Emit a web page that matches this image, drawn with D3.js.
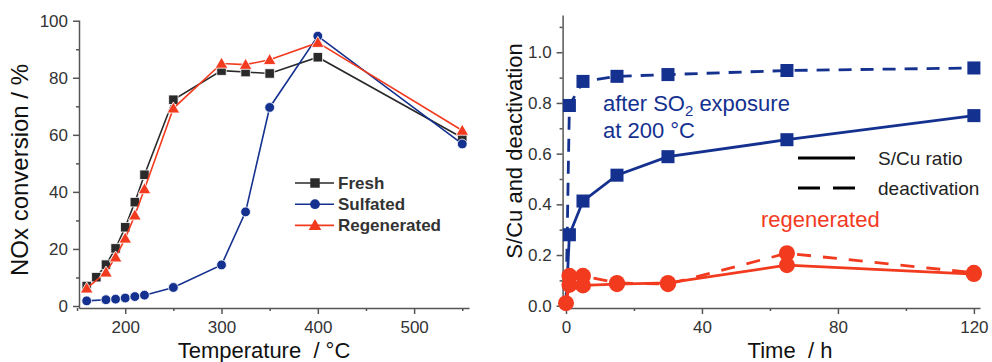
<!DOCTYPE html>
<html>
<head>
<meta charset="utf-8">
<script src="https://cdn.jsdelivr.net/npm/d3@7"></script>
<style>
  body { margin: 0; background: #fff; }
  svg { display: block; font-family: "Liberation Sans", Arial, sans-serif; }
</style>
</head>
<body>
<svg id="chart" width="992" height="362"></svg>
<script>
// Left panel: NOx conversion vs temperature
const tempsFresh = [160, 170, 180, 190, 200, 210, 220, 250, 300, 325, 350, 400, 550];
const fresh = [7.0, 10.1, 14.5, 20.2, 27.6, 36.4, 46.0, 72.3, 82.5, 82.0, 81.5, 87.2, 59.0];
const tempsSulf = [160, 180, 190, 200, 210, 220, 250, 300, 325, 350, 400, 550];
const sulfated = [1.8, 2.2, 2.4, 2.8, 3.3, 3.8, 6.5, 14.4, 33.0, 69.6, 94.6, 56.8];
const tempsRegen = [160, 180, 190, 200, 210, 220, 250, 300, 325, 350, 400, 550];
const regenerated = [6.2, 11.8, 17.1, 23.7, 31.8, 41.0, 69.3, 85.0, 84.6, 86.3, 92.3, 61.5];

// Right panel: S/Cu ratio and deactivation vs time
const times = [0, 1, 5, 15, 30, 65, 120];
const sulfSCu = [0, 0.28, 0.413, 0.515, 0.588, 0.655, 0.75];
const sulfDeact = [0, 0.79, 0.885, 0.905, 0.912, 0.928, 0.938];
const regenSCu = [0.01, 0.082, 0.08, 0.085, 0.09, 0.16, 0.125];
const regenDeact = [0.01, 0.118, 0.118, 0.09, 0.085, 0.207, 0.13];

const BLUE = "#14318f", RED = "#f23a1f", BLACK = "#2a2a2a", AXIS = "#555";

const svg = d3.select("#chart");

// helper for a pair of major/minor axes
function drawAxis(g, axisFn, scale, major, minor, fmt) {
  g.append("g").call(axisFn(scale).tickValues(minor).tickSize(3).tickFormat(""))
    .call(a => a.select(".domain").remove());
  const ax = g.append("g").call(axisFn(scale).tickValues(major).tickSize(6).tickSizeOuter(0).tickPadding(5).tickFormat(fmt));
  return ax;
}

function styleAxes(sel) {
  sel.selectAll(".domain, line").attr("stroke", AXIS).attr("stroke-width", 1.5);
  sel.selectAll("text").attr("fill", "#333").attr("font-size", 17).attr("font-family", "Liberation Sans, Arial, sans-serif");
}

// ---------- left chart ----------
const x1 = d3.scaleLinear().domain([152, 557]).range([79, 469]);
const y1 = d3.scaleLinear().domain([-0.7, 100.25]).range([308, 20]);

const left = svg.append("g");
const lx = left.append("g").attr("transform", "translate(0,308)");
drawAxis(lx, d3.axisBottom, x1, [200, 300, 400, 500], [150, 250, 350, 450, 550], d3.format("d"))
  .selectAll("text").attr("dy", "0.71em").attr("y", 13);
const ly = left.append("g").attr("transform", "translate(79,0)");
drawAxis(ly, d3.axisLeft, y1, [0, 20, 40, 60, 80, 100], [10, 30, 50, 70, 90], d3.format("d"));
styleAxes(left);

const leftSeries = [
  { name: "Fresh", xs: tempsFresh, ys: fresh, color: BLACK, symbol: d3.symbolSquare, size: 90 },
  { name: "Sulfated", xs: tempsSulf, ys: sulfated, color: BLUE, symbol: d3.symbolCircle, size: 75 },
  { name: "Regenerated", xs: tempsRegen, ys: regenerated, color: RED, symbol: d3.symbolTriangle, size: 70 }
];

const line1 = d3.line().x(d => x1(d[0])).y(d => y1(d[1]));
leftSeries.forEach(s => {
  const pts = s.xs.map((t, i) => [t, s.ys[i]]);
  left.append("path").datum(pts).attr("d", line1)
    .attr("fill", "none").attr("stroke", s.color).attr("stroke-width", 1.6);
  left.append("g").selectAll("path").data(pts).join("path")
    .attr("transform", d => `translate(${x1(d[0])},${y1(d[1]) + (s.symbol === d3.symbolTriangle ? 1 : 0)})`)
    .attr("d", d3.symbol(s.symbol, s.size))
    .attr("fill", s.color).attr("stroke", "#fff").attr("stroke-width", 0.8);
});

// left legend
const leg1 = left.append("g");
leftSeries.forEach((s, i) => {
  const yy = 183 + i * 21.2;
  leg1.append("line").attr("x1", 295).attr("x2", 334).attr("y1", yy).attr("y2", yy)
    .attr("stroke", s.color).attr("stroke-width", 1.6);
  leg1.append("path").attr("transform", `translate(315,${yy + (s.symbol === d3.symbolTriangle ? 1 : 0)})`)
    .attr("d", d3.symbol(s.symbol, s.size)).attr("fill", s.color);
  leg1.append("text").attr("x", 338).attr("y", yy + 6).attr("font-size", 17)
    .attr("font-weight", "bold").attr("fill", "#333").text(s.name);
});

left.append("text").attr("x", 264).attr("y", 358).attr("text-anchor", "middle")
  .attr("font-size", 22).attr("fill", "#111").attr("xml:space", "preserve").text("Temperature  / °C");
left.append("text").attr("transform", "translate(28,170) rotate(-90)").attr("text-anchor", "middle")
  .attr("font-size", 24).attr("fill", "#111").text("NOx conversion / %");

// ---------- right chart ----------
const x2 = d3.scaleLinear().domain([-1, 121.8]).range([562.6, 980]);
const y2 = d3.scaleLinear().domain([-0.009, 1.147]).range([308, 15]);

const right = svg.append("g");
const rx = right.append("g").attr("transform", "translate(0,308)");
drawAxis(rx, d3.axisBottom, x2, [0, 40, 80, 120], [20, 60, 100], d3.format("d"))
  .selectAll("text").attr("dy", "0.71em").attr("y", 13);
const ry = right.append("g").attr("transform", "translate(562.6,0)");
drawAxis(ry, d3.axisLeft, y2, [0, 0.2, 0.4, 0.6, 0.8, 1.0], [0.1, 0.3, 0.5, 0.7, 0.9, 1.1], d3.format(".1f"));
styleAxes(right);

const line2 = d3.line().x(d => x2(d[0])).y(d => y2(d[1]));
const rightSeries = [
  { ys: sulfDeact, color: BLUE, dash: "13,9", symbol: d3.symbolSquare, size: 170, from: 1 },
  { ys: sulfSCu, color: BLUE, dash: null, symbol: d3.symbolSquare, size: 170, from: 1 },
  { ys: regenDeact, color: RED, dash: "14,12", symbol: d3.symbolCircle, size: 200, from: 1 },
  { ys: regenSCu, color: RED, dash: null, symbol: d3.symbolCircle, size: 200, from: 0 }
];
rightSeries.forEach(s => {
  const pts = times.map((t, i) => [t, s.ys[i]]);
  right.append("path").datum(pts).attr("d", line2)
    .attr("fill", "none").attr("stroke", s.color).attr("stroke-width", 2.8)
    .attr("stroke-dasharray", s.dash);
});
rightSeries.forEach(s => {
  const pts = times.map((t, i) => [t, s.ys[i]]).slice(s.from);
  right.append("g").selectAll("path").data(pts).join("path")
    .attr("transform", d => `translate(${x2(d[0])},${y2(d[1])})`)
    .attr("d", d3.symbol(s.symbol, s.size)).attr("fill", s.color);
});

// right legend
right.append("line").attr("x1", 798).attr("x2", 855).attr("y1", 158).attr("y2", 158)
  .attr("stroke", "#000").attr("stroke-width", 2.8);
right.append("line").attr("x1", 798).attr("x2", 855).attr("y1", 188).attr("y2", 188)
  .attr("stroke", "#000").attr("stroke-width", 2.8).attr("stroke-dasharray", "22,13");
right.append("text").attr("x", 878).attr("y", 165).attr("font-size", 19).attr("fill", "#222").text("S/Cu ratio");
right.append("text").attr("x", 878).attr("y", 195).attr("font-size", 19).attr("fill", "#222").text("deactivation");

// annotations
const ann = right.append("text").attr("x", 603).attr("y", 111).attr("font-size", 22).attr("fill", BLUE);
ann.append("tspan").text("after SO");
ann.append("tspan").attr("font-size", 15).attr("dy", 5).text("2");
ann.append("tspan").attr("dy", -5).text(" exposure");
right.append("text").attr("x", 603).attr("y", 138).attr("font-size", 22).attr("fill", BLUE).text("at 200 °C");
right.append("text").attr("x", 761).attr("y", 227).attr("font-size", 22).attr("fill", RED).text("regenerated");

right.append("text").attr("x", 790).attr("y", 358).attr("text-anchor", "middle")
  .attr("font-size", 22).attr("fill", "#111").attr("xml:space", "preserve").text("Time  / h");
right.append("text").attr("transform", "translate(522,151) rotate(-90)").attr("text-anchor", "middle")
  .attr("font-size", 22).attr("fill", "#111").text("S/Cu and deactivation");
</script>
</body>
</html>
